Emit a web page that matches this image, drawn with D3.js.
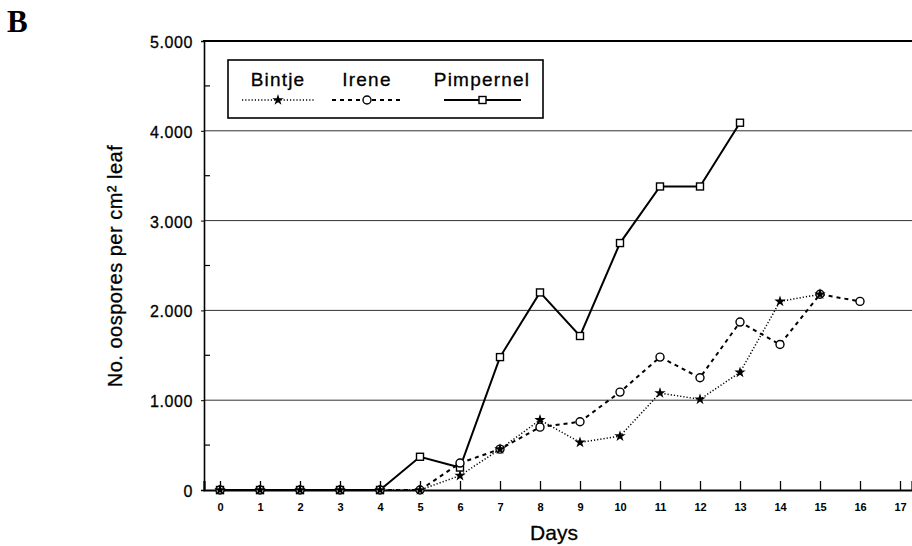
<!DOCTYPE html>
<html>
<head>
<meta charset="utf-8">
<script src="https://cdn.jsdelivr.net/npm/d3@7"></script>
<style>
  body { margin: 0; background: #fff; }
  svg { display: block; font-family: "Liberation Sans", Arial, Helvetica, sans-serif; }
</style>
</head>
<body>
<div id="chart"></div>
<script>
// Oospores per cm2 leaf
const days = [0, 1, 2, 3, 4, 5, 6, 7, 8, 9, 10, 11, 12, 13, 14, 15, 16];
const bintje = [0, 0, 0, 0, 0, 0, 160, 455, 780, 530, 600, 1080, 1010, 1310, 2100, 2180];
const irene = [0, 0, 0, 0, 0, 0, 300, 455, 700, 760, 1090, 1480, 1250, 1870, 1620, 2180, 2100];
const pimpernel = [0, 0, 0, 0, 0, 370, 250, 1480, 2200, 1715, 2750, 3380, 3380, 4090];
const xTicks = d3.range(0, 18);
const yMajor = [0, 1000, 2000, 3000, 4000, 5000];
const yMinor = [500, 1500, 2500, 3500, 4500];

const width = 912, height = 546;

const svg = d3.select("#chart").append("svg")
    .attr("width", width)
    .attr("height", height);

const x = d3.scaleLinear().domain([-0.4, 17.3]).range([204, 912]);
const y = d3.scaleLinear().domain([0, 5000]).range([490, 41]);

const fmt = v => v === 0 ? "0" : d3.format(",")(v).replace(",", ".");

// panel letter
svg.append("text")
    .attr("x", 7).attr("y", 32)
    .style("font-family", "'Liberation Serif', 'Times New Roman', serif")
    .style("font-weight", "bold")
    .style("font-size", "31px")
    .text("B");

// gridlines
svg.append("g").selectAll("line")
    .data(yMajor.filter(d => d > 0 && d < 5000))
    .join("line")
    .attr("x1", x.range()[0]).attr("x2", width)
    .attr("y1", d => y(d)).attr("y2", d => y(d))
    .attr("stroke", "#333").attr("stroke-width", 1);

// top frame
svg.append("line")
    .attr("x1", x.range()[0] - 1).attr("x2", width)
    .attr("y1", y(5000)).attr("y2", y(5000))
    .attr("stroke", "#000").attr("stroke-width", 2);

// y axis
const yAxis = svg.append("g")
    .attr("transform", `translate(${x.range()[0]},0)`)
    .call(d3.axisLeft(y).tickValues(yMajor).tickFormat(fmt).tickSize(3).tickPadding(8));
yAxis.select(".domain").attr("stroke-width", 1.6);
yAxis.selectAll("text")
    .style("font-size", "16px")
    .style("letter-spacing", "0.6px")
    .attr("stroke", "#000").attr("stroke-width", 0.3)
    .attr("dy", "0.4em");

// minor y ticks, drawn inward
svg.append("g").selectAll("line")
    .data(yMinor)
    .join("line")
    .attr("x1", x.range()[0]).attr("x2", x.range()[0] + 6)
    .attr("y1", d => y(d)).attr("y2", d => y(d))
    .attr("stroke", "#000").attr("stroke-width", 1.2);

// x axis with inward ticks
const xAxis = svg.append("g")
    .attr("transform", `translate(0,${y(0)})`)
    .call(d3.axisBottom(x).tickValues(xTicks).tickFormat(d3.format("d")).tickSize(-9).tickPadding(13));
xAxis.select(".domain").attr("stroke-width", 2.2);
xAxis.selectAll(".tick line").attr("stroke-width", 1.3);
xAxis.selectAll("text")
    .style("font-size", "11px")
    .style("font-weight", "bold");

// axis titles
svg.append("text")
    .attr("x", 554).attr("y", 540)
    .attr("text-anchor", "middle")
    .style("font-size", "21px")
    .attr("stroke", "#000").attr("stroke-width", 0.3)
    .text("Days");

svg.append("text")
    .attr("transform", "translate(122,266) rotate(-90)")
    .attr("text-anchor", "middle")
    .style("font-size", "20px")
    .style("letter-spacing", "0.5px")
    .attr("stroke", "#000").attr("stroke-width", 0.3)
    .text("No. oospores per cm² leaf");

const series = [
    { name: "Bintje", values: bintje, dash: "1.2,2", sw: 1.5, marker: "star" },
    { name: "Irene", values: irene, dash: "4,4", sw: 2, marker: "circle" },
    { name: "Pimpernel", values: pimpernel, dash: null, sw: 2, marker: "square" }
];

const line = d3.line()
    .x((d, i) => x(days[i]))
    .y(d => y(d));

function drawMarker(g, kind, cx, cy) {
    if (kind === "circle") {
        g.append("circle")
            .attr("cx", cx).attr("cy", cy).attr("r", 4)
            .attr("fill", "#fff").attr("stroke", "#000").attr("stroke-width", 1.4);
    } else if (kind === "square") {
        g.append("rect")
            .attr("x", cx - 3.5).attr("y", cy - 3.5)
            .attr("width", 7).attr("height", 7)
            .attr("fill", "#fff").attr("stroke", "#000").attr("stroke-width", 1.4);
    } else {
        g.append("path")
            .attr("transform", `translate(${cx},${cy})`)
            .attr("d", d3.symbol(d3.symbolStar, 40)())
            .attr("fill", "#000");
    }
}

series.forEach(s => {
    svg.append("path")
        .datum(s.values)
        .attr("d", line)
        .attr("fill", "none")
        .attr("stroke", "#000")
        .attr("stroke-width", s.sw)
        .attr("stroke-dasharray", s.dash);
});

// markers: squares first, stars last so overlaps look filled like the print
series.slice().reverse().forEach(s => {
    const g = svg.append("g");
    s.values.forEach((v, i) => drawMarker(g, s.marker, x(days[i]), y(v)));
});

// legend
const legend = svg.append("g");
legend.append("rect")
    .attr("x", 228).attr("y", 60)
    .attr("width", 315).attr("height", 58)
    .attr("fill", "#fff").attr("stroke", "#000").attr("stroke-width", 1.6);

const legendItems = [
    { s: series[0], tx: 278, x1: 242, x2: 314 },
    { s: series[1], tx: 367, x1: 332, x2: 402 },
    { s: series[2], tx: 482, x1: 444, x2: 521 }
];
legendItems.forEach(it => {
    legend.append("text")
        .attr("x", it.tx).attr("y", 86)
        .attr("text-anchor", "middle")
        .style("font-size", "19px")
        .style("letter-spacing", "1.2px")
        .attr("stroke", "#000").attr("stroke-width", 0.3)
        .text(it.s.name);
    legend.append("line")
        .attr("x1", it.x1).attr("x2", it.x2)
        .attr("y1", 100).attr("y2", 100)
        .attr("stroke", "#000")
        .attr("stroke-width", it.s.sw)
        .attr("stroke-dasharray", it.s.dash);
    drawMarker(legend, it.s.marker, (it.x1 + it.x2) / 2, 100);
});
</script>
</body>
</html>
